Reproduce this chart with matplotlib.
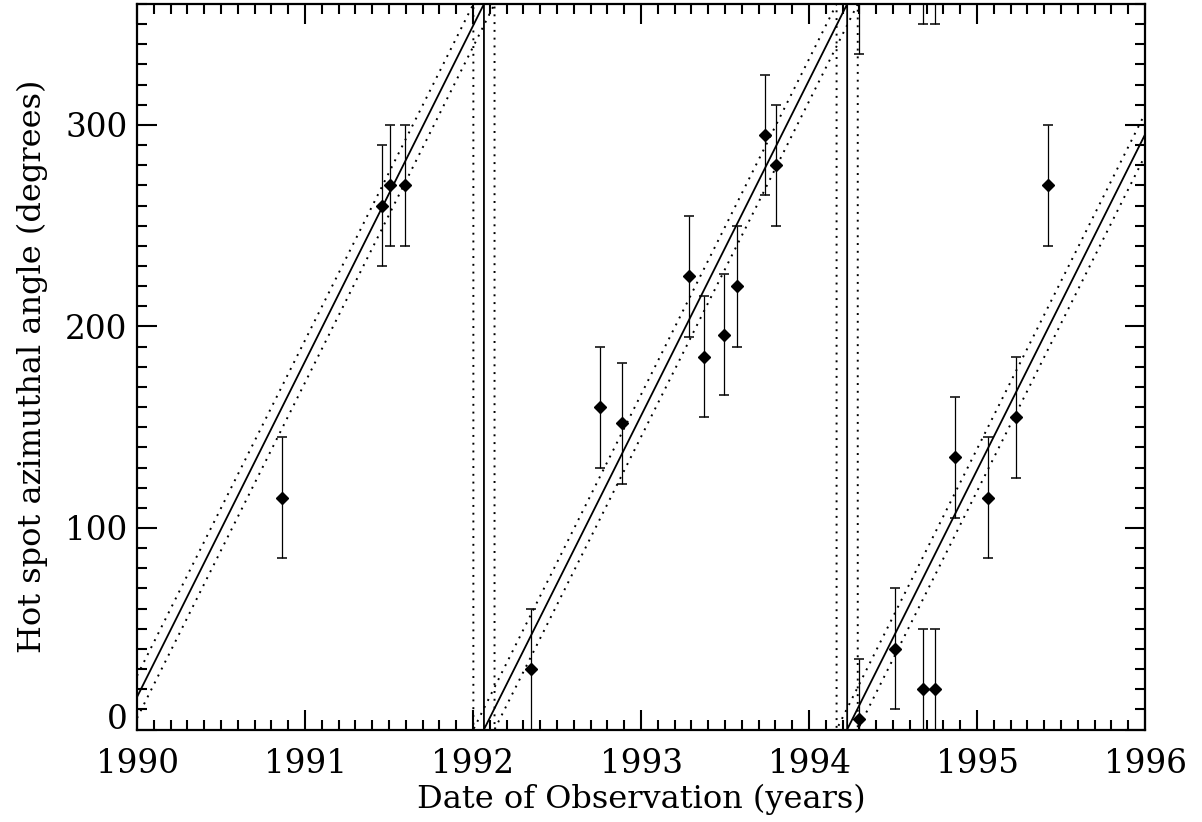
import numpy as np
import matplotlib
matplotlib.use("Agg")
import matplotlib.pyplot as plt
from matplotlib.ticker import MultipleLocator, FuncFormatter

# Observed hot spot positions (decimal year, azimuthal angle in degrees, 1-sigma error)
obs_year = [1990.863, 1991.460, 1991.506, 1991.593, 1992.347, 1992.758, 1992.889,
            1993.288, 1993.373, 1993.492, 1993.573, 1993.735, 1993.806,
            1994.299, 1994.512, 1994.677, 1994.752, 1994.867, 1995.063, 1995.232, 1995.424]
obs_angle = [115, 260, 270, 270, 30, 160, 152,
             225, 185, 196, 220, 295, 280,
             5, 40, 20, 20, 135, 115, 155, 270]
obs_err = [30] * len(obs_angle)

# Linear precession model: angle = 360 * (t - t_zero) / period (mod 360)
period = 2.162          # years per full revolution
t_zero = 1992.065       # epoch where the model angle wraps through 0
t_zero_err = 0.063      # epoch uncertainty (years)

x_range = (1990.0, 1996.0)
y_range = (0.0, 360.0)


def wrapped_track(epoch, t_start, t_end):
    """Sawtooth track of the model angle, with vertical segments at each wrap."""
    xs, ys = [t_start], [((t_start - epoch) / period % 1.0) * 360.0]
    k = np.ceil((t_start - epoch) / period)
    tc = epoch + k * period
    while tc < t_end:
        if tc > t_start:
            xs += [tc, tc]
            ys += [360.0, 0.0]
        k += 1
        tc = epoch + k * period
    xs.append(t_end)
    ys.append(((t_end - epoch) / period % 1.0) * 360.0)
    return np.array(xs), np.array(ys)


plt.rcParams['font.family'] = ['DejaVu Serif']

fig = plt.figure(figsize=(12.02, 8.22), dpi=100)
ax = fig.add_axes([0.114, 0.1125, 0.8386, 0.8826])

# Model line and its uncertainty envelope
for epoch, ls in [(t_zero, '-'), (t_zero - t_zero_err, (0, (1, 3))), (t_zero + t_zero_err, (0, (1, 3)))]:
    tx, ty = wrapped_track(epoch, *x_range)
    ax.plot(tx, ty, color='black', lw=1.3 if ls == '-' else 1.4, linestyle=ls,
            solid_joinstyle='miter')

# Data, plus copies shifted by one revolution so bars crossing 0 show at the top
ang = np.array(obs_angle, dtype=float)
for shift in (0.0, 360.0):
    ax.errorbar(obs_year, ang + shift, yerr=obs_err, fmt='D', color='black',
                markersize=6.4, elinewidth=0.9, capsize=3.6, capthick=1.1,
                ecolor='black')

ax.set_xlim(*x_range)
ax.set_ylim(*y_range)

ax.xaxis.set_major_locator(MultipleLocator(1))
ax.xaxis.set_minor_locator(MultipleLocator(0.1))
ax.yaxis.set_major_locator(MultipleLocator(100))
ax.yaxis.set_minor_locator(MultipleLocator(10))
ax.xaxis.set_major_formatter(FuncFormatter(lambda v, p: '%d' % round(v)))
# the "0" at the corner is placed separately, a little above the axis
ax.yaxis.set_major_formatter(FuncFormatter(lambda v, p: '' if abs(v) < 1e-9 else '%d' % round(v)))

ax.tick_params(which='both', direction='in', top=True, right=True, width=1.5,
               labelsize=23.5)
ax.tick_params(which='major', length=14.4)
ax.tick_params(which='minor', length=7.2)
ax.tick_params(axis='x', which='major', pad=13)
ax.tick_params(axis='y', which='major', pad=7)

ax.annotate('0', xy=(0, 0), xycoords='axes fraction', xytext=(-7, 7),
            textcoords='offset points', ha='right', va='center', fontsize=23.5)

for sp in ax.spines.values():
    sp.set_linewidth(1.6)

ax.set_xlabel('Date of Observation (years)', fontsize=23, labelpad=3)
ax.set_ylabel('Hot spot azimuthal angle (degrees)', fontsize=23, labelpad=12)

fig.savefig('out.png', dpi=100)
